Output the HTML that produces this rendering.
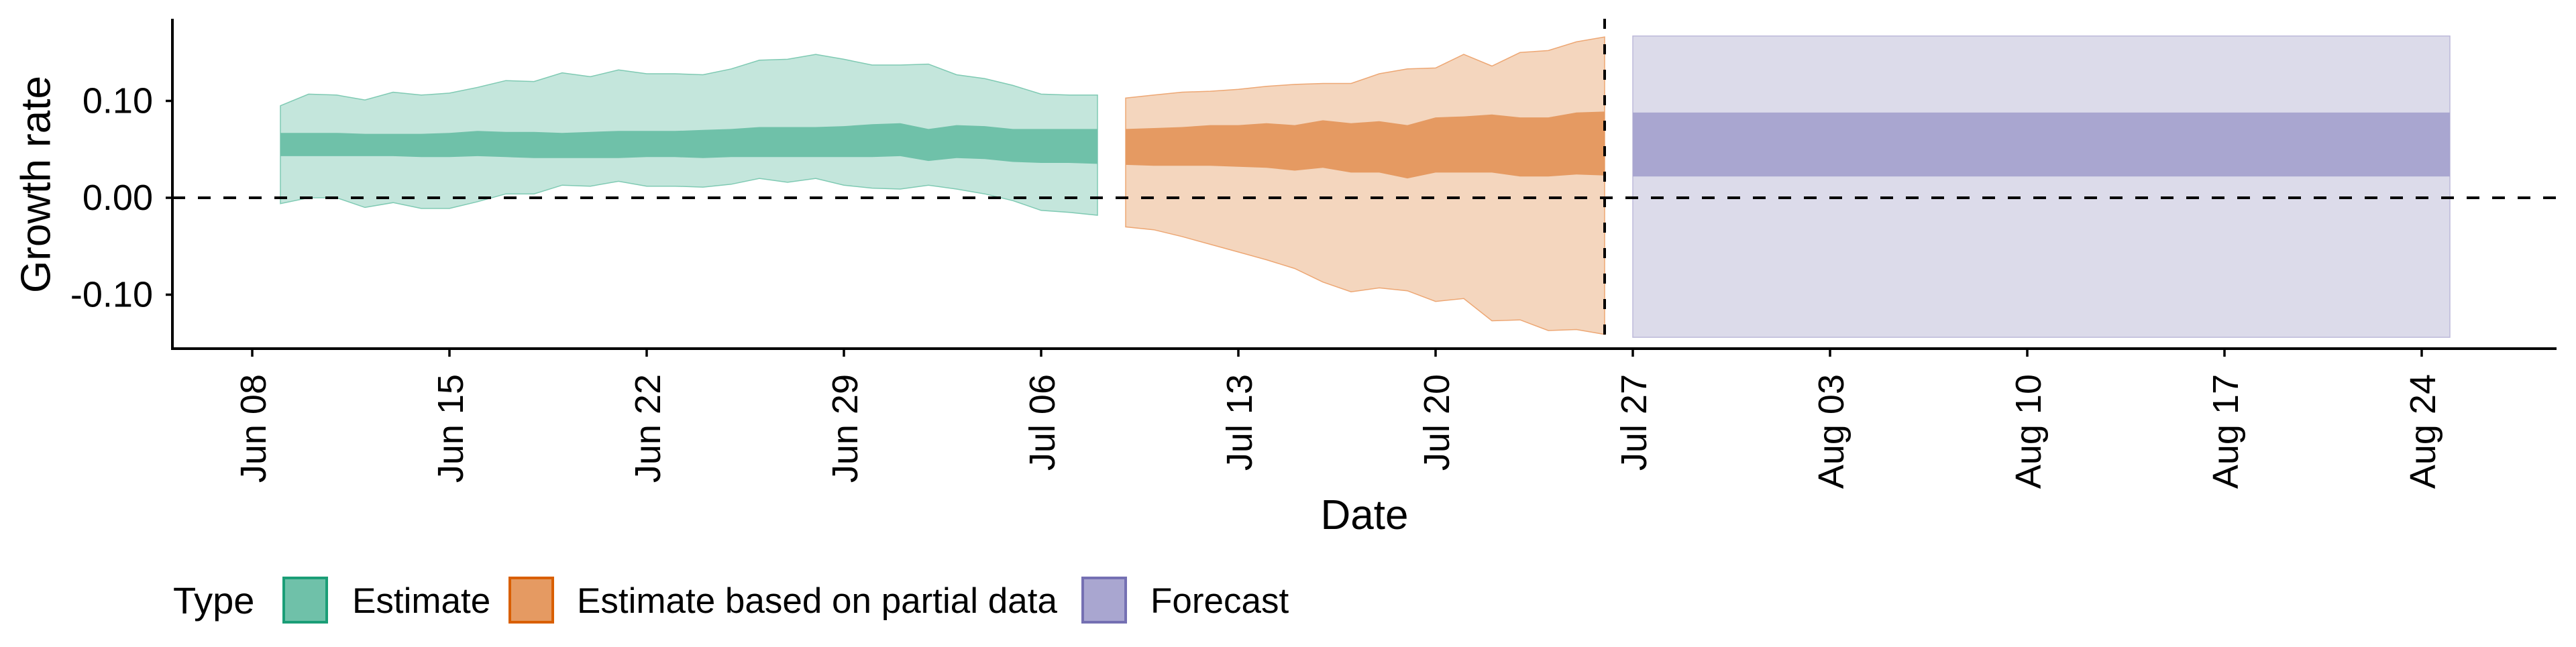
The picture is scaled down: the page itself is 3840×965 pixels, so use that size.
<!DOCTYPE html>
<html><head><meta charset="utf-8"><style>
html,body{margin:0;padding:0;background:#fff;}
svg text{font-family:"Liberation Sans",Arial,sans-serif;fill:#000;}
</style></head><body>
<svg id="chart" width="3840" height="960" viewBox="0 0 3840 960" xmlns="http://www.w3.org/2000/svg">
<g id="bands"></g>
<g id="axes"></g>
<text x="54" y="275" font-size="62" text-anchor="middle" dominant-baseline="central" transform="rotate(-90 54 275)">Growth rate</text>
<text x="2034" y="789" font-size="62" text-anchor="middle">Date</text>
<g>
<text x="258" y="915" font-size="56">Type</text>
<rect x="423" y="862" width="64" height="66" fill="#6fc1a9" stroke="#1b9e77" stroke-width="4"/>
<text x="525" y="914" font-size="53">Estimate</text>
<rect x="760" y="862" width="64" height="66" fill="#e59a62" stroke="#d95f02" stroke-width="4"/>
<text x="860" y="914" font-size="53">Estimate based on partial data</text>
<rect x="1614" y="862" width="64" height="66" fill="#a9a6d0" stroke="#7570b3" stroke-width="4"/>
<text x="1715" y="914" font-size="53">Forecast</text>
</g>
</svg>
<script>
// day offsets from Jun 08
const tickDays = [0,7,14,21,28,35,42,49,56,63,70,77];
const tickLabels = ["Jun 08","Jun 15","Jun 22","Jun 29","Jul 06","Jul 13","Jul 20","Jul 27","Aug 03","Aug 10","Aug 17","Aug 24"];
const yTicks = [0.10, 0.00, -0.10];
const yTickLabels = ["0.10","0.00","-0.10"];

const estStartDay = 1;
const estOuterUpper = [0.095,0.107,0.106,0.101,0.109,0.106,0.108,0.114,0.121,0.120,0.129,0.125,0.132,0.128,0.128,0.127,0.133,0.142,0.143,0.148,0.143,0.137,0.137,0.138,0.127,0.123,0.116,0.107,0.106,0.106];
const estOuterLower = [-0.006,0.000,0.000,-0.010,-0.005,-0.011,-0.011,-0.004,0.004,0.004,0.013,0.012,0.017,0.012,0.012,0.011,0.014,0.020,0.016,0.020,0.013,0.010,0.009,0.013,0.009,0.004,-0.003,-0.013,-0.015,-0.018];
const estInnerUpper = [0.067,0.067,0.067,0.066,0.066,0.066,0.067,0.069,0.068,0.068,0.067,0.068,0.069,0.069,0.069,0.070,0.071,0.073,0.073,0.073,0.074,0.076,0.077,0.071,0.075,0.074,0.071,0.071,0.071,0.071];
const estInnerLower = [0.043,0.043,0.043,0.043,0.043,0.042,0.042,0.043,0.042,0.041,0.041,0.041,0.041,0.042,0.042,0.041,0.042,0.042,0.042,0.042,0.042,0.042,0.043,0.038,0.041,0.040,0.037,0.036,0.036,0.035];

const partStartDay = 31;
const partOuterUpper = [0.103,0.106,0.109,0.110,0.112,0.115,0.117,0.118,0.118,0.128,0.133,0.134,0.148,0.136,0.150,0.152,0.161,0.166];
const partOuterLower = [-0.030,-0.033,-0.040,-0.048,-0.056,-0.064,-0.073,-0.087,-0.097,-0.093,-0.096,-0.107,-0.104,-0.127,-0.126,-0.137,-0.136,-0.141];
const partInnerUpper = [0.071,0.072,0.073,0.075,0.075,0.077,0.075,0.080,0.077,0.079,0.075,0.083,0.084,0.086,0.083,0.083,0.088,0.089];
const partInnerLower = [0.034,0.033,0.033,0.033,0.032,0.031,0.028,0.031,0.026,0.026,0.020,0.026,0.026,0.026,0.022,0.022,0.024,0.023];

const fcStartDay = 49, fcEndDay = 78;
const fcOuter = [-0.144, 0.167];
const fcInner = [0.022, 0.088];

const nowDay = 48;

const X0 = 376, PX_PER_DAY = 42.0;
const Y0 = 295, PX_PER_UNIT = 1445;
function xs(d){ return X0 + d*PX_PER_DAY; }
function ys(v){ return Y0 - v*PX_PER_UNIT; }

const NS = "http://www.w3.org/2000/svg";
const bands = document.getElementById('bands');
const axes = document.getElementById('axes');
function mk(tag, attrs, parent){
  const e = document.createElementNS(NS, tag);
  for (const k in attrs) e.setAttribute(k, attrs[k]);
  parent.appendChild(e);
  return e;
}
function ribbon(start, up, lo, fill, stroke, name){
  let pts = [];
  for (let i=0;i<up.length;i++) pts.push(xs(start+i).toFixed(1)+","+ys(up[i]).toFixed(1));
  for (let i=lo.length-1;i>=0;i--) pts.push(xs(start+i).toFixed(1)+","+ys(lo[i]).toFixed(1));
  const p = mk('polygon', {points: pts.join(' '), fill: fill, stroke: stroke, 'stroke-width': stroke==='none'?0:1.5}, bands);
  
  
}
ribbon(estStartDay, estOuterUpper, estOuterLower, '#c4e6dc', '#7fcab3', 'estimate-outer-band');
ribbon(estStartDay, estInnerUpper, estInnerLower, '#6fc1a9', 'none', 'estimate-inner-band');
ribbon(partStartDay, partOuterUpper, partOuterLower, '#f4d6be', '#eda774', 'partial-outer-band');
ribbon(partStartDay, partInnerUpper, partInnerLower, '#e59a62', 'none', 'partial-inner-band');

const fo = mk('rect', {x: xs(fcStartDay), y: ys(fcOuter[1]), width: xs(fcEndDay)-xs(fcStartDay), height: ys(fcOuter[0])-ys(fcOuter[1]), fill:'#dcdbea', stroke:'#bdb9da', 'stroke-width':1.5}, bands);


const fi = mk('rect', {x: xs(fcStartDay), y: ys(fcInner[1]), width: xs(fcEndDay)-xs(fcStartDay), height: ys(fcInner[0])-ys(fcInner[1]), fill:'#a9a6d0'}, bands);



// zero line
const zl = mk('line', {x1: 257, x2: 3811, y1: ys(0), y2: ys(0), stroke:'#000', 'stroke-width':4, 'stroke-dasharray':'19,19'}, axes);


// now line
const nl = mk('line', {x1: xs(nowDay), x2: xs(nowDay), y1: 28, y2: 520, stroke:'#000', 'stroke-width':4, 'stroke-dasharray':'15,23'}, axes);



// axis lines
const ya = mk('line', {x1:257, x2:257, y1:28, y2:522, stroke:'#000', 'stroke-width':4}, axes);


const xa = mk('line', {x1:255, x2:3811, y1:520, y2:520, stroke:'#000', 'stroke-width':4}, axes);



for (let i=0;i<yTicks.length;i++){
  const y = ys(yTicks[i]);
  const t = mk('line', {x1:247, x2:257, y1:y, y2:y, stroke:'#000', 'stroke-width':3.5}, axes);
  
  
  const l = mk('text', {x:228, y:y, 'font-size':54, 'text-anchor':'end', 'dominant-baseline':'central'}, axes);
  l.textContent = yTickLabels[i];
  
  
}
for (let i=0;i<tickDays.length;i++){
  const x = xs(tickDays[i]);
  const t = mk('line', {x1:x, x2:x, y1:520, y2:532, stroke:'#000', 'stroke-width':3.5}, axes);
  
  
  const lx = x + 20, ly = 558;
  const l = mk('text', {x:lx, y:ly, 'font-size':54, 'text-anchor':'end', transform:'rotate(-90 '+lx+' '+ly+')'}, axes);
  l.textContent = tickLabels[i];
  
  
}
</script>
</body></html>
